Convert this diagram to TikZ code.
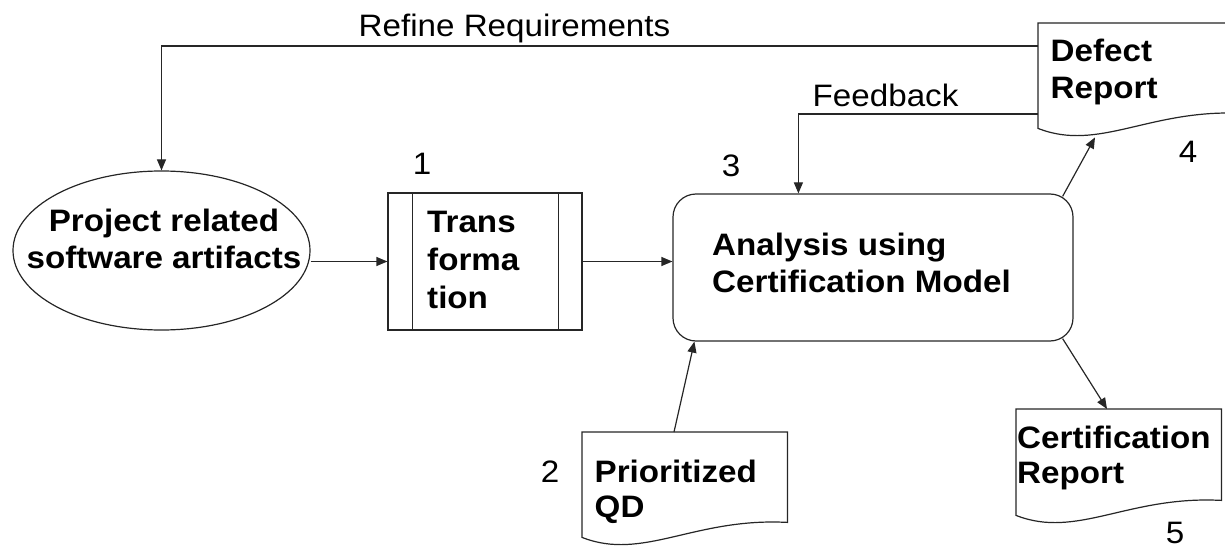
\documentclass[tikz,border=0pt]{standalone}
\usepackage{fontspec}
\setmainfont[FakeStretch=1.07]{Liberation Sans}
\usetikzlibrary{arrows.meta,calc,shapes.geometric}

% Outline of a "document" symbol laid over a placeholder node:
% straight top and sides, wavy bottom edge.
\newcommand\docoutline[1]{%
  \draw[line, fill=white] (#1.north west) -- (#1.north east)
    -- ($(#1.south east)+(0,-15)$)
    .. controls ($(#1.south west)+(112,-20)$) and ($(#1.south west)+(61,24)$) .. (#1.south west)
    -- cycle;}

\begin{document}
\begin{tikzpicture}[x=1pt,y=-1pt,
  line/.style={line width=1.2pt, draw=black!85},
  arr/.style={line, -{Triangle[length=11pt,width=9pt]}},
  lbl/.style={inner sep=0pt, font=\fontsize{31}{36.5}\selectfont},
  bold/.style={inner sep=0pt, align=left, font=\fontsize{31}{36.5}\selectfont\bfseries},
  docarea/.style={minimum width=205pt, minimum height=105pt, inner sep=0pt, anchor=north west},
]
\useasboundingbox (0,0) rectangle (1225,548);

% --- processes and data stores ---
\node[ellipse, line, minimum width=297pt, minimum height=159pt, inner sep=0pt] (art) at (161.5,250.5) {};
\node[line, minimum width=194pt, minimum height=137pt, inner sep=0pt] (tr) at (485,261.5) {};
\draw[line] ($(tr.north west)+(25,0)$) -- ($(tr.south west)+(25,0)$);
\draw[line] ($(tr.north east)+(-24,0)$) -- ($(tr.south east)+(-24,0)$);
\node[line, rounded corners=23pt, minimum width=400pt, minimum height=147pt, inner sep=0pt] (an) at (873,267.5) {};

\node[docarea] (dr) at (1038,23) {};
\node[docarea] (qd) at (582,432) {};
\node[docarea, minimum height=106pt] (cr) at (1016,409) {};
\docoutline{dr}
\docoutline{qd}
\docoutline{cr}

% --- texts (multi-line nodes sit on the baseline of their last line) ---
\node[bold, align=center, anchor=base] (artT) at (164,268) {Project related\\software artifacts};
\node[bold, anchor=base west, font=\fontsize{31}{38}\selectfont\bfseries] (trT) at (427,308) {Trans\\forma\\tion};
\node[bold, anchor=base west, font=\fontsize{31}{37}\selectfont\bfseries] (anT) at (712,292) {Analysis using\\Certification Model};
\node[bold, anchor=base west, font=\fontsize{31}{37}\selectfont\bfseries] (drT) at (1050.5,99) {Defect\\Report};
\node[bold, anchor=base west, font=\fontsize{31}{35}\selectfont\bfseries] (crT) at (1017,483) {Certification\\Report};
\node[bold, anchor=base west, font=\fontsize{31}{35}\selectfont\bfseries] (qdT) at (594.5,517) {Prioritized\\QD};

\node[lbl, anchor=base west] (refT) at (358.5,37) {Refine Requirements};
\node[lbl, anchor=base west] (fbT) at (812.5,107) {Feedback};
\node[lbl, anchor=base] (n1) at (422,175) {1};
\node[lbl, anchor=base] (n2) at (550,482) {2};
\node[lbl, anchor=base] (n3) at (731,176) {3};
\node[lbl, anchor=base] (n4) at (1188,163) {4};
\node[lbl, anchor=base] (n5) at (1175,543) {5};

% --- connection points ---
\coordinate (qdOut)  at ($(qd.north west)+(92,0)$);
\coordinate (anIn)   at ($(an.south west)+(22,0)$);
\coordinate (anUp)   at ($(an.north east)+(-11,3)$);
\coordinate (anDown) at ($(an.south east)+(-11,-3)$);
\coordinate (drIn)   at ($(dr.south west)+(57,9)$);
\coordinate (crIn)   at ($(cr.north west)+(91,0)$);
\coordinate (drFb)   at ($(dr.north west)+(0,91)$);
\coordinate (drRef)  at ($(dr.north west)+(0,23)$);
\coordinate (anFb)   at ($(an.north west)+(126,0)$);

% --- flows ---
\draw[arr] (tr.west -| art.east) -- (tr.west);
\draw[arr] (tr.east) -- (tr.east -| an.west);
\draw[arr] (qdOut) -- (anIn);
\draw[arr] (anUp) -- (drIn);
\draw[arr] (anDown) -- (crIn);
\draw[arr] (drFb) -| (anFb);
\draw[arr] (drRef) -| (art.north);
\end{tikzpicture}
\end{document}
